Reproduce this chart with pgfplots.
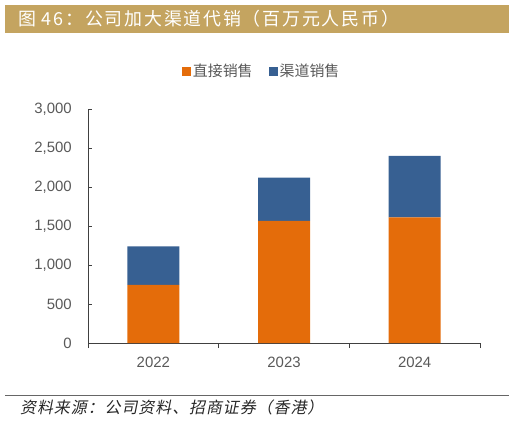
\documentclass[border=0pt]{standalone}
\usepackage{fontspec}
\setmainfont{Liberation Sans}
\newfontfamily\cjk{Noto Sans CJK SC}
\newfontfamily\cjktitle[LetterSpace=10]{Noto Sans CJK SC}
\newfontfamily\cjkit[FakeSlant=0.2, LetterSpace=6]{Noto Sans CJK SC}
\usepackage{pgfplots}
\pgfplotsset{compat=1.18}
\definecolor{gold}{RGB}{196,164,96}
\definecolor{ora}{RGB}{228,108,10}
\definecolor{blu}{RGB}{55,96,146}
\definecolor{tickgray}{RGB}{89,89,89}
\begin{document}
\begin{tikzpicture}[x=1bp,y=1bp]
\path[use as bounding box] (0,0) rectangle (514,420);
\fill[gold] (5,387) rectangle (509,415);
\node[anchor=west, text=white, font=\cjktitle\fontsize{18}{20}\selectfont, inner sep=0] at (18,401) {图 46：公司加大渠道代销（百万元人民币）};
\begin{axis}[
  at={(88bp,77bp)}, anchor=south west,
  scale only axis, width=392bp, height=234bp,
  ybar stacked, bar width=52bp,
  xmin=-0.5, xmax=2.5, ymin=0, ymax=3000,
  xtick={0,1,2}, xticklabels={2022,2023,2024},
  major x tick style={draw=none},
  extra x ticks={-0.5,0.5,1.5,2.5}, extra x tick labels={},
  extra x tick style={tick align=outside, major tick length=5bp, major x tick style={draw=black!75, line width=1bp}},
  ytick={0,500,...,3000},
  y tick style={draw=black!75, line width=1bp},
  tick align=inside, major tick length=4bp,
  axis x line*=bottom, axis y line*=left,
  axis line style={draw=black!75, line width=1bp},
  /pgf/number format/assume math mode=true,
  /pgf/number format/1000 sep={,},
  scaled y ticks=false,
  tick label style={font=\fontsize{15}{18}\selectfont, text=tickgray},
  yticklabel style={inner sep=0pt, xshift=-16bp},
  xticklabel style={inner sep=0pt, yshift=-14bp},
  legend style={at={(0.443,1.162)}, anchor=center, draw=none, fill=none,
    legend columns=2, font=\cjk\fontsize{15}{18}\selectfont, text=tickgray,
    /tikz/every even column/.append style={column sep=14bp}},
  legend image code/.code={\fill[#1] (0bp,-4.5bp) rectangle (9bp,4.5bp);},
]
\addplot[fill=ora, draw=none] coordinates {(0,745) (1,1565) (2,1610)};
\addplot[fill=blu, draw=none] coordinates {(0,495) (1,555) (2,790)};
\legend{直接销售, 渠道销售}
\end{axis}
\draw[black!60, line width=0.8bp] (5,25) -- (509,25);
\node[anchor=west, inner sep=0, font=\cjkit\fontsize{16}{18}\selectfont, text=black!85] at (20,13) {资料来源：公司资料、招商证券（香港）};
\end{tikzpicture}
\end{document}
